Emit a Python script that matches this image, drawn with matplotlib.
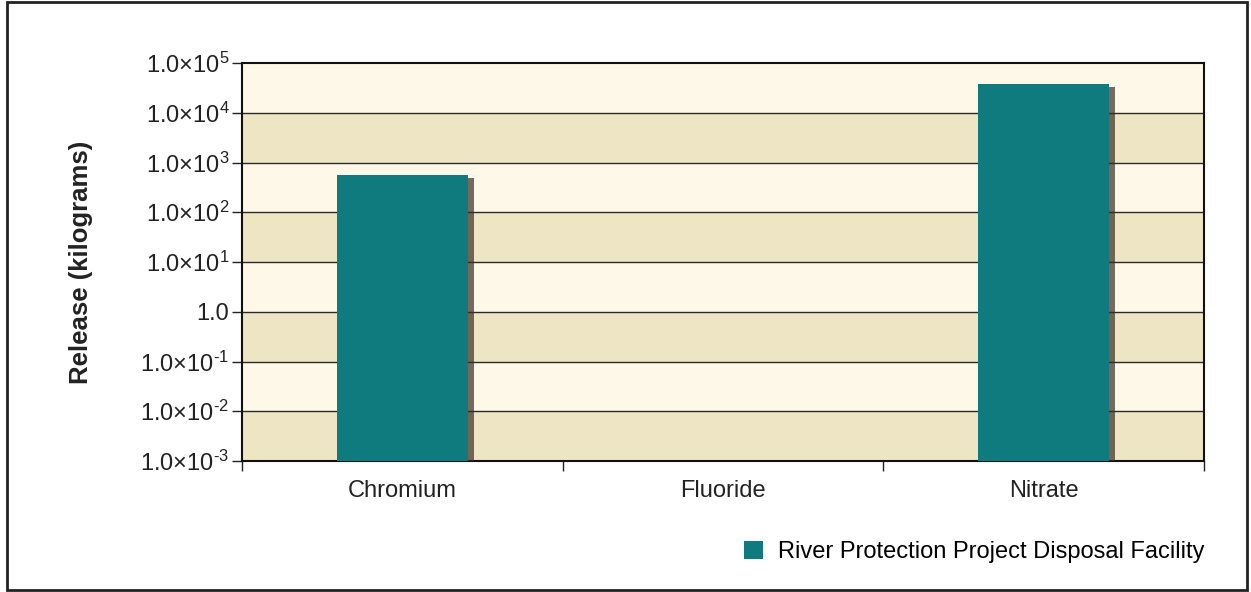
import numpy as np
import matplotlib
matplotlib.use("Agg")
import matplotlib.pyplot as plt
import matplotlib.patheffects as pe
from matplotlib.patches import Rectangle
from matplotlib.ticker import FixedLocator, FixedFormatter, NullLocator

plt.rcParams['font.family'] = ['Liberation Sans', 'DejaVu Sans']
plt.rcParams['mathtext.fontset'] = 'custom'
plt.rcParams['mathtext.rm'] = 'Liberation Sans'
plt.rcParams['mathtext.it'] = 'Liberation Sans'

categories = ["Chromium", "Fluoride", "Nitrate"]
release_kg = [560.0, np.nan, 38000.0]
series_name = "River Protection Project Disposal Facility"
ytick_exponents = [-3, -2, -1, 0, 1, 2, 3, 4, 5]
ytick_labels = [r"1.0$\times$10$^{\text{-}3}$", r"1.0$\times$10$^{\text{-}2}$", r"1.0$\times$10$^{\text{-}1}$",
                "1.0", r"1.0$\times$10$^{1}$", r"1.0$\times$10$^{2}$", r"1.0$\times$10$^{3}$",
                r"1.0$\times$10$^{4}$", r"1.0$\times$10$^{5}$"]

bar_color = "#0f7b7f"
light_band = "#fdf8e7"
tan_band = "#eee5c5"

fig = plt.figure(figsize=(12.51, 5.92), dpi=100)
fig.patch.set_facecolor("white")
ax = fig.add_axes([242/1251, 1-461/592, (1204-242)/1251, (461-63)/592])
ax.set_yscale("log")
ax.set_ylim(10.0**ytick_exponents[0], 10.0**ytick_exponents[-1])
ax.set_xlim(-0.5, len(categories)-0.5)

# alternating bands
for i, e in enumerate(ytick_exponents[:-1]):
    col = tan_band if i % 2 == 0 else light_band
    ax.axhspan(10.0**e, 10.0**(e+1), color=col, zorder=0, lw=0)
for e in ytick_exponents[1:-1]:
    ax.axhline(10.0**e, color="#2a2a2a", lw=1.0, zorder=1)

x = np.arange(len(categories))
bars = ax.bar(x, release_kg, width=0.41, color=bar_color, zorder=3,
              label=series_name, bottom=10.0**ytick_exponents[0])
for b in bars:
    b.set_path_effects([pe.SimplePatchShadow(offset=(4, -2), shadow_rgbFace="#3b2e22", alpha=0.7),
                        pe.Normal()])

ax.yaxis.set_major_locator(FixedLocator([10.0**e for e in ytick_exponents]))
ax.yaxis.set_major_formatter(FixedFormatter(ytick_labels))
ax.yaxis.set_minor_locator(NullLocator())
ax.tick_params(axis="y", which="major", length=7, width=1, color="#222222",
               labelsize=17, pad=2, labelcolor="#222222")

ax.set_xticks(np.arange(len(categories)+1) - 0.5)
ax.set_xticklabels([])
ax.set_xticks(x, minor=True)
ax.set_xticklabels(categories, minor=True)
ax.tick_params(axis="x", which="major", length=7, width=1, color="#222222")
ax.tick_params(axis="x", which="minor", length=0, labelsize=17, pad=14, labelcolor="#222222")

for s in ax.spines.values():
    s.set_color("#111111")
    s.set_linewidth(1.5)

ax.set_ylabel("Release (kilograms)", fontsize=18.5, fontweight="bold", color="#222222")
ax.yaxis.set_label_coords((93-242)/962, 0.5)

leg = ax.legend(loc="center right", bbox_to_anchor=(1204/1251, 1-552/592),
                bbox_transform=fig.transFigure, frameon=False, fontsize=17,
                handlelength=0.8, handleheight=0.8, handletextpad=0.6, borderaxespad=0,
                borderpad=0)
for h in leg.legend_handles:
    h.set_path_effects([])

fig.add_artist(Rectangle((7/1251, 2/592), (1247-7)/1251, (590-2)/592,
                         transform=fig.transFigure, fill=False, edgecolor="#222222", lw=2))

fig.savefig("out.png", dpi=100, facecolor="white")
